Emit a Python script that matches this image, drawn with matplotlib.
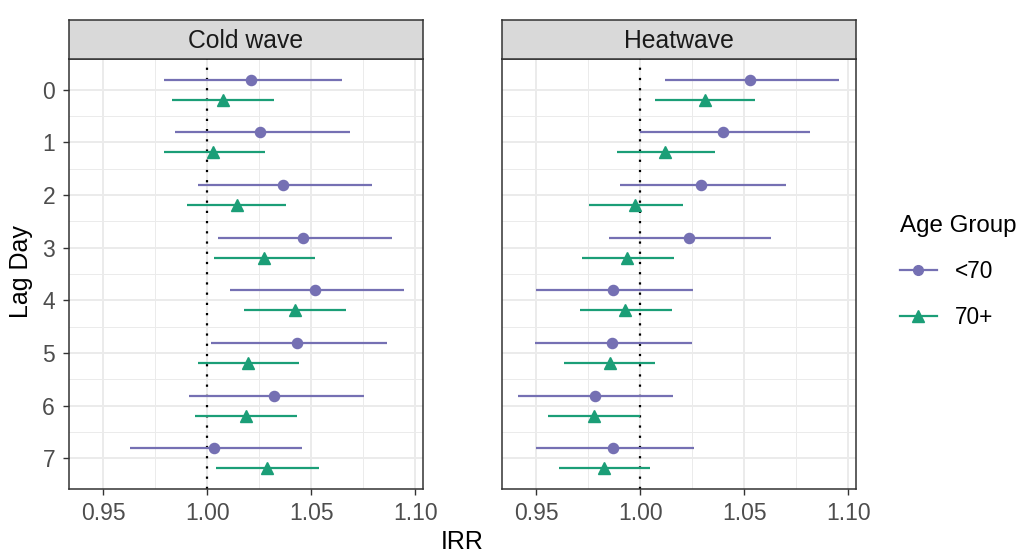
import numpy as np
import matplotlib.pyplot as plt
from matplotlib.lines import Line2D

plt.rcParams['font.family'] = ['Liberation Sans', 'DejaVu Sans']

lags = np.arange(8)
groups = ['<70', '70+']
colors = {'<70': '#7570B3', '70+': '#1B9E77'}
markers = {'<70': 'o', '70+': '^'}

# Cold wave
cold_est = {'<70': [1.0208, 1.0254, 1.0366, 1.0460, 1.0517, 1.0432, 1.0323, 1.0032],
            '70+': [1.0074, 1.0029, 1.0141, 1.0274, 1.0420, 1.0198, 1.0186, 1.0288]}
cold_lo = {'<70': [0.9790, 0.9845, 0.9957, 1.0050, 1.0107, 1.0020, 0.9912, 0.9627],
           '70+': [0.9830, 0.9790, 0.9900, 1.0034, 1.0176, 0.9957, 0.9942, 1.0042]}
cold_hi = {'<70': [1.0647, 1.0688, 1.0794, 1.0886, 1.0947, 1.0864, 1.0752, 1.0456],
           '70+': [1.0320, 1.0275, 1.0380, 1.0520, 1.0669, 1.0442, 1.0432, 1.0536]}

# Heatwave
heat_est = {'<70': [1.0527, 1.0396, 1.0294, 1.0232, 0.9868, 0.9866, 0.9780, 0.9871],
            '70+': [1.0310, 1.0121, 0.9975, 0.9936, 0.9927, 0.9852, 0.9776, 0.9825]}
heat_lo = {'<70': [1.0121, 1.0000, 0.9904, 0.9849, 0.9498, 0.9494, 0.9412, 0.9498],
           '70+': [1.0073, 0.9889, 0.9755, 0.9720, 0.9709, 0.9634, 0.9558, 0.9607]}
heat_hi = {'<70': [1.0953, 1.0815, 1.0702, 1.0630, 1.0251, 1.0250, 1.0159, 1.0256],
           '70+': [1.0552, 1.0358, 1.0205, 1.0162, 1.0151, 1.0072, 1.0000, 1.0046]}

panels = [('Cold wave', cold_est, cold_lo, cold_hi),
          ('Heatwave', heat_est, heat_lo, heat_hi)]
offsets = {'<70': -0.19, '70+': 0.19}

W, H = 1026, 554
fig = plt.figure(figsize=(W / 100, H / 100), dpi=100)

panel_x = [69, 502]
pw = 354
ptop, pbot = 59, 489
strip_top = 20

for (title, est, lo, hi), px in zip(panels, panel_x):
    ax = fig.add_axes([px / W, 1 - pbot / H, pw / W, (pbot - ptop) / H])
    ax.set_xlim(0.9335, 1.1037)
    ax.set_ylim(7.58, -0.58)
    ax.set_xticks([0.95, 1.00, 1.05, 1.10])
    ax.set_xticks([0.975, 1.025, 1.075], minor=True)
    ax.set_yticks(lags)
    ax.set_yticks(lags[:-1] + 0.5, minor=True)
    ax.grid(True, which='major', color='#EBEBEB', linewidth=1.4, zorder=0)
    ax.grid(True, which='minor', color='#EBEBEB', linewidth=0.7, zorder=0)
    ax.set_axisbelow(True)
    ax.axvline(1.0, color='black', linestyle=(0, (1, 3.6)), linewidth=1.6, zorder=2)
    for g in groups:
        y = lags + offsets[g]
        e = np.array(est[g])
        xerr = [e - np.array(lo[g]), np.array(hi[g]) - e]
        ax.errorbar(e, y, xerr=xerr, fmt=markers[g], color=colors[g],
                    ecolor=colors[g], elinewidth=1.6, capsize=0,
                    markersize=7.3 if g == '<70' else 9, zorder=3)
    for s in ax.spines.values():
        s.set_color('#333333')
        s.set_linewidth(1.1)
    ax.tick_params(which='major', length=4.5, width=1, color='#333333',
                   labelsize=16.5, labelcolor='#4D4D4D')
    ax.tick_params(axis='x', which='major', pad=4.5)
    ax.tick_params(axis='y', which='major', pad=5.5)
    ax.tick_params(which='minor', length=0)
    ax.set_xticklabels(['0.95', '1.00', '1.05', '1.10'])
    if px == panel_x[0]:
        ax.set_yticklabels([str(i) for i in lags])
    else:
        ax.tick_params(axis='y', which='major', length=0, labelleft=False)

    sax = fig.add_axes([px / W, 1 - ptop / H, pw / W, (ptop - strip_top) / H])
    sax.set_facecolor('#D9D9D9')
    sax.set_xticks([])
    sax.set_yticks([])
    for s in sax.spines.values():
        s.set_color('#333333')
        s.set_linewidth(1.1)
    sax.text(0.5, 0.45, title, ha='center', va='center', fontsize=17.8,
             color='#1A1A1A', transform=sax.transAxes)

fig.text((69 + 856) / 2 / W, 1 - 542 / H, 'IRR', ha='center', va='center', fontsize=18)
fig.text(21 / W, 1 - 272 / H, 'Lag Day', ha='center', va='center', rotation=90, fontsize=18)

handles = [Line2D([], [], color=colors[g], marker=markers[g], linewidth=1.6,
                  markersize=7 if g == '<70' else 8.5) for g in groups]
leg = fig.legend(handles, groups, loc='upper left', bbox_to_anchor=(880 / W, 1 - 195 / H),
                 frameon=False, title='Age Group', fontsize=16.3, title_fontsize=17.4,
                 handlelength=1.6, labelspacing=1.0, handletextpad=0.8)
leg._legend_box.align = 'left'

fig.savefig('out.png', dpi=100)
